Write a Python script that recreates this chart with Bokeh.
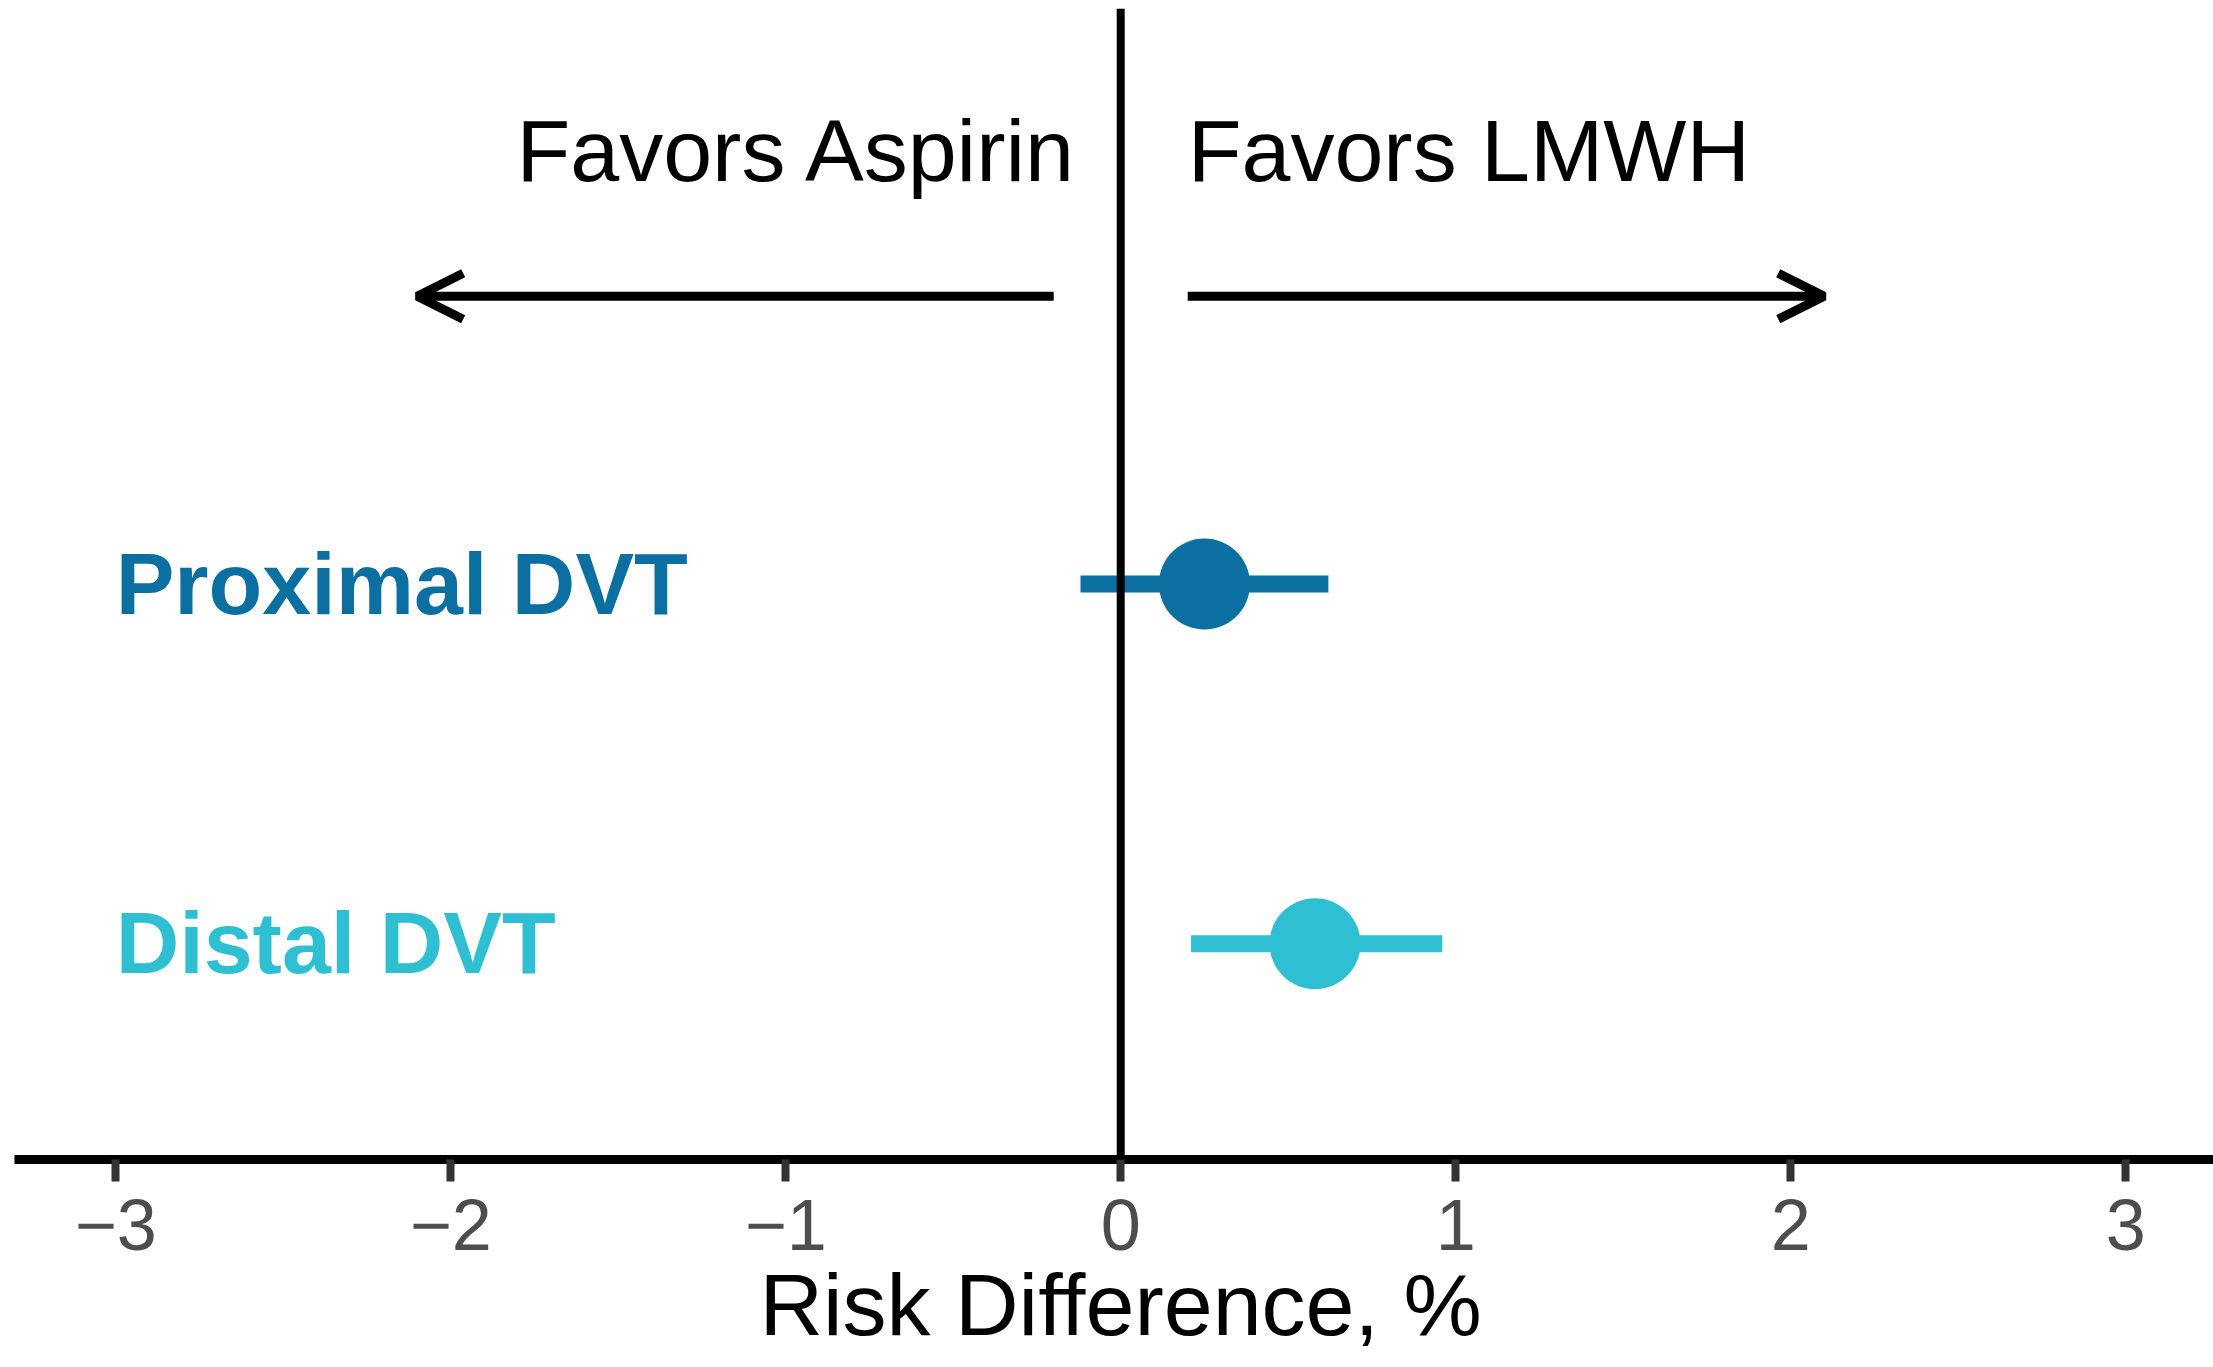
from bokeh.plotting import figure
from bokeh.models import Range1d, Span, Arrow, OpenHead, FixedTicker, ColumnDataSource, Title
from bokeh.core.properties import value
from bokeh.embed import file_html
from bokeh.resources import INLINE

# ---- data ----
outcomes = ["Proximal DVT", "Distal DVT"]
row_pos = [2, 1]
estimates = [0.25, 0.58]
ci_lower = [-0.12, 0.21]
ci_upper = [0.62, 0.96]
colors = ["#0B6FA1", "#2EC0D2"]
x_ticks = [-3, -2, -1, 0, 1, 2, 3]
x_tick_labels = ["\u22123", "\u22122", "\u22121", "0", "1", "2", "3"]
x_label = "Risk Difference, %"
favors_text = ["Favors Aspirin", "Favors LMWH"]
favors_x = [-0.125, 0.2]
favors_y = 3.205
arrow_start = [-0.2, 0.2]
arrow_end = [-2.1, 2.1]
arrow_y = 2.8
label_x = -3.0

FONT = "Liberation Sans"

src = ColumnDataSource(dict(outcome=outcomes, y=row_pos, est=estimates,
                            lo=ci_lower, hi=ci_upper, color=colors))

p = figure(width=2213, height=1367, output_backend="svg", toolbar_location=None,
           x_range=Range1d(-3.302, 3.262), y_range=Range1d(0.4, 3.6),
           min_border_left=14, min_border_right=0, min_border_top=8,
           min_border_bottom=208, y_axis_location=None)
p.outline_line_color = None
p.xgrid.grid_line_color = None
p.ygrid.grid_line_color = None
p.background_fill_color = "white"
p.border_fill_color = "white"

ax = p.xaxis[0]
ax.ticker = FixedTicker(ticks=x_ticks)
ax.major_label_overrides = {t: l for t, l in zip(x_ticks, x_tick_labels)}
ax.minor_tick_line_color = None
ax.major_tick_in = 0
ax.major_tick_out = 22
ax.major_tick_line_width = 8
ax.major_tick_line_color = "#333333"
ax.axis_line_width = 9
ax.axis_line_color = "black"
ax.major_label_text_font = FONT
ax.major_label_text_font_size = "72px"
ax.major_label_text_color = "#4d4d4d"
ax.major_label_standoff = 18

# axis title placed as a bottom title so it can sit centred on x = 0
p.add_layout(Title(text=x_label, align="left", offset=745, vertical_align="bottom",
                   standoff=0, text_font=FONT, text_font_size="88px",
                   text_font_style="normal", text_color="black"), "below")

p.add_layout(Span(location=0, dimension="height", line_color="black", line_width=8))

p.segment(x0="lo", y0="y", x1="hi", y1="y", line_width=17, line_color="color",
          line_cap="butt", source=src)
p.scatter(x="est", y="y", size=91, fill_color="color", line_color=None, source=src)

p.text(x=label_x, y="y", text="outcome", text_color="color", text_font=value(FONT),
       text_font_style="bold", text_font_size="88px", text_baseline="alphabetic",
       text_align="left", y_offset=-1, source=src)

p.text(x=[favors_x[0]], y=[favors_y], text=[favors_text[0]], text_color="black",
       text_font=value(FONT), text_font_size="88px", text_baseline="alphabetic",
       text_align="right")
p.text(x=[favors_x[1]], y=[favors_y], text=[favors_text[1]], text_color="black",
       text_font=value(FONT), text_font_size="88px", text_baseline="alphabetic",
       text_align="left")

for xs, xe in zip(arrow_start, arrow_end):
    p.add_layout(Arrow(end=OpenHead(size=46, line_width=9, line_color="black"),
                       x_start=xs, y_start=arrow_y, x_end=xe, y_end=arrow_y,
                       line_width=9, line_color="black"))

open("out.html", "w").write(file_html(p, INLINE))
